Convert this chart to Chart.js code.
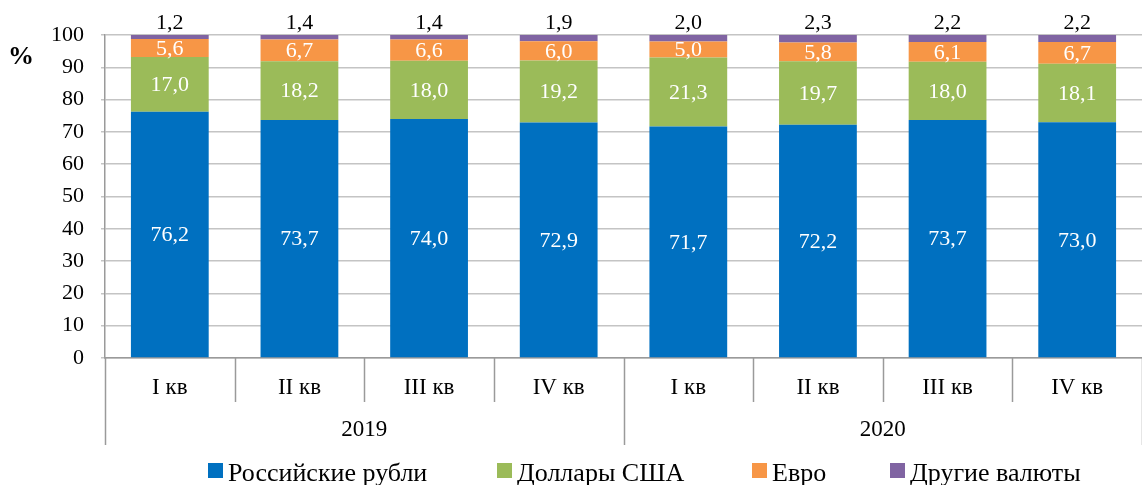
<!DOCTYPE html>
<html>
<head>
<meta charset="utf-8">
<script src="https://cdn.jsdelivr.net/npm/chart.js@4.4.0/dist/chart.umd.min.js"></script>
<style>
html, body { margin: 0; padding: 0; background: #fff; }
</style>
</head>
<body>
<canvas id="chart" width="1142" height="485"></canvas>
<script>
// данные
const quarters = ['I кв', 'II кв', 'III кв', 'IV кв', 'I кв', 'II кв', 'III кв', 'IV кв'];
const years = ['2019', '2020'];
const rub = [76.2, 73.7, 74.0, 72.9, 71.7, 72.2, 73.7, 73.0];
const usd = [17.0, 18.2, 18.0, 19.2, 21.3, 19.7, 18.0, 18.1];
const eur = [5.6, 6.7, 6.6, 6.0, 5.0, 5.8, 6.1, 6.7];
const other = [1.2, 1.4, 1.4, 1.9, 2.0, 2.3, 2.2, 2.2];
const yTicks = [0, 10, 20, 30, 40, 50, 60, 70, 80, 90, 100];

const FONT = '"Liberation Serif", "Times New Roman", serif';
const fmt = v => v.toFixed(1).replace('.', ',');

// подписи значений
const valueLabels = {
    id: 'valueLabels',
    afterDatasetsDraw(chart) {
        const ctx = chart.ctx;
        ctx.save();
        ctx.font = '22px ' + FONT;
        ctx.textAlign = 'center';
        chart.data.datasets.forEach((ds, di) => {
            const meta = chart.getDatasetMeta(di);
            meta.data.forEach((bar, i) => {
                const v = ds.data[i];
                if (di === 3) {
                    ctx.fillStyle = '#000';
                    ctx.textBaseline = 'bottom';
                    ctx.fillText(fmt(v), bar.x, bar.y - 1);
                } else {
                    ctx.fillStyle = '#fff';
                    ctx.textBaseline = 'middle';
                    ctx.fillText(fmt(v), bar.x, (bar.y + bar.base) / 2 + 1);
                }
            });
        });
        ctx.restore();
    }
};

// ось X с группировкой по годам, знак % и легенда
const extras = {
    id: 'extras',
    afterDraw(chart) {
        const ctx = chart.ctx;
        const x = chart.scales.x;
        const area = chart.chartArea;
        const step = x.getPixelForValue(1) - x.getPixelForValue(0);
        const y0 = area.bottom;
        ctx.save();
        ctx.strokeStyle = '#9a9a9a';
        ctx.lineWidth = 1.5;
        for (let i = 0; i <= quarters.length; i++) {
            const px = Math.round(x.getPixelForValue(0) - step / 2 + i * step) + 0.5;
            const len = (i % 4 === 0) ? 87 : 44;
            ctx.beginPath();
            ctx.moveTo(px, y0);
            ctx.lineTo(px, y0 + len);
            ctx.stroke();
        }
        ctx.fillStyle = '#000';
        ctx.textAlign = 'center';
        ctx.textBaseline = 'middle';
        ctx.font = '23px ' + FONT;
        quarters.forEach((q, i) => {
            ctx.fillText(q, x.getPixelForValue(i), y0 + 30);
        });
        years.forEach((yr, j) => {
            const c = (x.getPixelForValue(j * 4) + x.getPixelForValue(j * 4 + 3)) / 2;
            ctx.fillText(yr, c, y0 + 72);
        });

        ctx.font = 'bold 26px ' + FONT;
        ctx.fillText('%', 21, 57);

        // легенда
        const legendX = [208, 497, 752, 890];
        ctx.font = '26px ' + FONT;
        ctx.textAlign = 'left';
        ctx.textBaseline = 'alphabetic';
        chart.data.datasets.forEach((ds, di) => {
            ctx.fillStyle = ds.backgroundColor;
            ctx.fillRect(legendX[di], 463, 15, 15);
            ctx.fillStyle = '#000';
            ctx.fillText(ds.label, legendX[di] + 20, 481);
        });
        ctx.restore();
    }
};

new Chart(document.getElementById('chart'), {
    type: 'bar',
    data: {
        labels: quarters,
        datasets: [
            { label: 'Российские рубли', data: rub, backgroundColor: '#0070C0' },
            { label: 'Доллары США', data: usd, backgroundColor: '#9BBB59' },
            { label: 'Евро', data: eur, backgroundColor: '#F79646' },
            { label: 'Другие валюты', data: other, backgroundColor: '#8064A2' }
        ]
    },
    options: {
        responsive: false,
        animation: false,
        layout: { padding: { top: 35, right: 0, bottom: 0, left: 0 } },
        plugins: {
            legend: { display: false },
            tooltip: { enabled: false }
        },
        datasets: {
            bar: { categoryPercentage: 1, barPercentage: 0.6, borderWidth: 0 }
        },
        scales: {
            x: {
                stacked: true,
                ticks: { display: false },
                grid: { display: false },
                border: { color: '#9a9a9a', width: 1.5 },
                afterFit(scale) { scale.height = 127; }
            },
            y: {
                stacked: true,
                min: 0,
                max: 100,
                afterBuildTicks(scale) { scale.ticks = yTicks.map(v => ({ value: v })); },
                ticks: {
                    color: '#000',
                    font: { family: FONT, size: 22 },
                    padding: 17
                },
                grid: { color: '#c4c4c4', lineWidth: 1.5, tickLength: 4 },
                border: { color: '#9a9a9a', width: 1.5 },
                afterFit(scale) { scale.width = 105; }
            }
        }
    },
    plugins: [valueLabels, extras]
});
</script>
</body>
</html>
